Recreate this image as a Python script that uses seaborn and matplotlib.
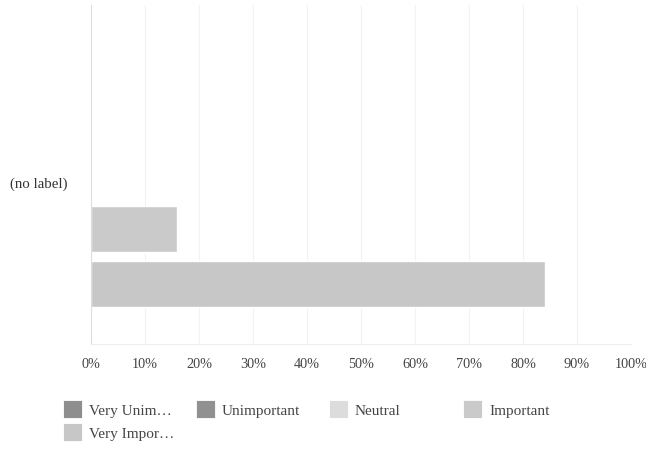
import matplotlib
matplotlib.use("Agg")
import matplotlib.pyplot as plt
import matplotlib.transforms as mtransforms
from matplotlib.patches import Patch
import pandas as pd
import seaborn as sns

# Survey data: one question, share of responses per answer
categories = ["(no label)"]
responses = ["Very Unimportant", "Unimportant", "Neutral", "Important", "Very Important"]
percents = [0, 0, 0, 16, 84]
legend_labels = ["Very Unim\u2026", "Unimportant", "Neutral", "Important", "Very Impor\u2026"]
tick_values = [0, 10, 20, 30, 40, 50, 60, 70, 80, 90, 100]
tick_labels = [f"{v}%" for v in tick_values]
colors = ["#8e8e8e", "#909090", "#dcdcdc", "#cacaca", "#c7c7c7"]

df = pd.DataFrame({
    "question": categories * len(responses),
    "response": responses,
    "percent": percents,
})

sns.set_theme(style="white")
plt.rcParams["font.family"] = ["Liberation Serif", "DejaVu Serif"]

W, H = 646, 449
fig = plt.figure(figsize=(W / 100, H / 100), dpi=100)
ax = fig.add_axes([91 / W, (H - 344) / H, (631 - 91) / W, (344 - 5) / H])

palette = dict(zip(responses, colors))
sns.barplot(
    data=df, x="percent", y="question", hue="response",
    hue_order=responses, palette=palette, orient="h",
    width=0.81, gap=0.16, saturation=1, legend=False, ax=ax,
)

ax.set_xlim(0, 100)
ax.set_ylim(0.5, -0.5)
ax.set_xticks(tick_values)
ax.set_xticklabels(tick_labels)
ax.set_xlabel("")
ax.set_ylabel("")
ax.tick_params(axis="x", length=0, pad=10, labelsize=10.3, labelcolor="#444444")
ax.tick_params(axis="y", length=0, pad=17, labelsize=10.7, labelcolor="#333333")
ax.grid(axis="x", color="#f2f2f2", linewidth=0.8)
ax.grid(axis="y", visible=False)
ax.set_axisbelow(True)

for side in ("top", "right"):
    ax.spines[side].set_visible(False)
ax.spines["left"].set_color("#dddddd")
ax.spines["left"].set_linewidth(0.8)
ax.spines["bottom"].set_color("#eeeeee")
ax.spines["bottom"].set_linewidth(0.8)

# nudge the category label slightly below the group centre
shift = mtransforms.ScaledTranslation(0, -8.5 / 100, fig.dpi_scale_trans)
for lbl in ax.get_yticklabels():
    lbl.set_transform(lbl.get_transform() + shift)

# legend laid out in fixed-width columns under the chart
def swatch(c):
    return Patch(facecolor=c, edgecolor=c, linewidth=3, joinstyle="round")

columns = [
    (66, [0, 4]),
    (199, [1]),
    (332, [2]),
    (466, [3]),
]
for x0, idxs in columns:
    fig.legend(
        handles=[swatch(colors[i]) for i in idxs],
        labels=[legend_labels[i] for i in idxs],
        loc="upper left",
        bbox_to_anchor=(x0 / W, (H - 403) / H),
        frameon=False, fontsize=11, borderpad=0, borderaxespad=0,
        handlelength=0.9, handleheight=0.9, handletextpad=0.6,
        labelspacing=0.55, labelcolor="#444444",
    )

fig.savefig("out.png", dpi=100, facecolor="white")
